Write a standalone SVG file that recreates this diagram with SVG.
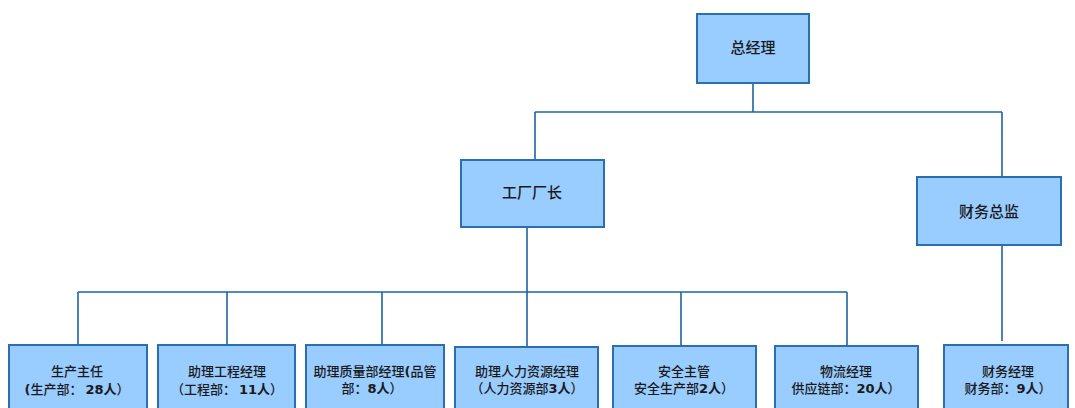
<svg xmlns="http://www.w3.org/2000/svg" width="1075" height="408" viewBox="0 0 1075 408">
<style>
.box{fill:#99CCFF;stroke:#2A6FB0;stroke-width:2}
.ln{fill:none;stroke:#1F64A6;stroke-width:1.6}
.t{font-family:"Noto Sans CJK SC","Liberation Serif",serif;fill:#1a1a1a;text-anchor:middle;font-weight:500}
.big{font-size:15px}
.sm{font-size:13px}
.b{font-family:"DejaVu Sans","Noto Sans CJK SC",sans-serif;font-weight:bold}
</style>
<rect width="1075" height="408" fill="#ffffff"/>
<g id="connectors">
<path class="ln" d="M753 83V112M535 112H1002M535 112V160M1002 112V177"/>
<path class="ln" d="M527 227V292M78 292H847M78 292V345M227 292V345M382 292V345M527 292V347M681 292V346M847 292V346"/>
<path class="ln" d="M1002 245V341"/>
</g>
<g id="n-gm"><rect class="box" x="697" y="14" width="112" height="69"/><text class="t big" x="753" y="53">总经理</text></g>
<g id="n-plant"><rect class="box" x="461" y="160" width="143" height="67"/><text class="t big" x="532" y="198">工厂厂长</text></g>
<g id="n-cfo"><rect class="box" x="917" y="177" width="144" height="68"/><text class="t big" x="989" y="217">财务总监</text></g>
<g id="n-prod"><rect class="box" x="9" y="345" width="138" height="70"/><text class="t sm" x="77" y="376">生产主任</text><text class="t sm" x="77" y="394"><tspan class="b">(</tspan>生产部： <tspan class="b">28</tspan><tspan font-weight="bold">人</tspan>）</text></g>
<g id="n-eng"><rect class="box" x="158" y="345" width="137" height="70"/><text class="t sm" x="227" y="376">助理工程经理</text><text class="t sm" x="227" y="394">（工程部： <tspan class="b">11</tspan><tspan font-weight="bold">人</tspan>）</text></g>
<g id="n-qa"><rect class="box" x="306" y="345" width="138" height="70"/><text class="t sm" x="375" y="376">助理质量部经理<tspan class="b">(</tspan>品管</text><text class="t sm" x="372" y="393">部：<tspan class="b">8</tspan><tspan font-weight="bold">人</tspan>）</text></g>
<g id="n-hr"><rect class="box" x="455" y="347" width="143" height="68"/><text class="t sm" x="527" y="376">助理人力资源经理</text><text class="t sm" x="527" y="393">（人力资源部<tspan class="b">3</tspan><tspan font-weight="bold">人</tspan>）</text></g>
<g id="n-safety"><rect class="box" x="613" y="346" width="143" height="69"/><text class="t sm" x="684" y="376">安全主管</text><text class="t sm" x="684" y="393">安全生产部<tspan class="b">2</tspan><tspan font-weight="bold">人</tspan>）</text></g>
<g id="n-log"><rect class="box" x="775" y="346" width="143" height="69"/><text class="t sm" x="846" y="376">物流经理</text><text class="t sm" x="846" y="393">供应链部：<tspan class="b">20</tspan><tspan font-weight="bold">人</tspan>）</text></g>
<g id="n-fin"><rect class="box" x="944" y="345" width="124" height="70"/><text class="t sm" x="1008" y="376">财务经理</text><text class="t sm" x="1008" y="393">财务部：<tspan class="b">9</tspan><tspan font-weight="bold">人</tspan>）</text></g>
</svg>
